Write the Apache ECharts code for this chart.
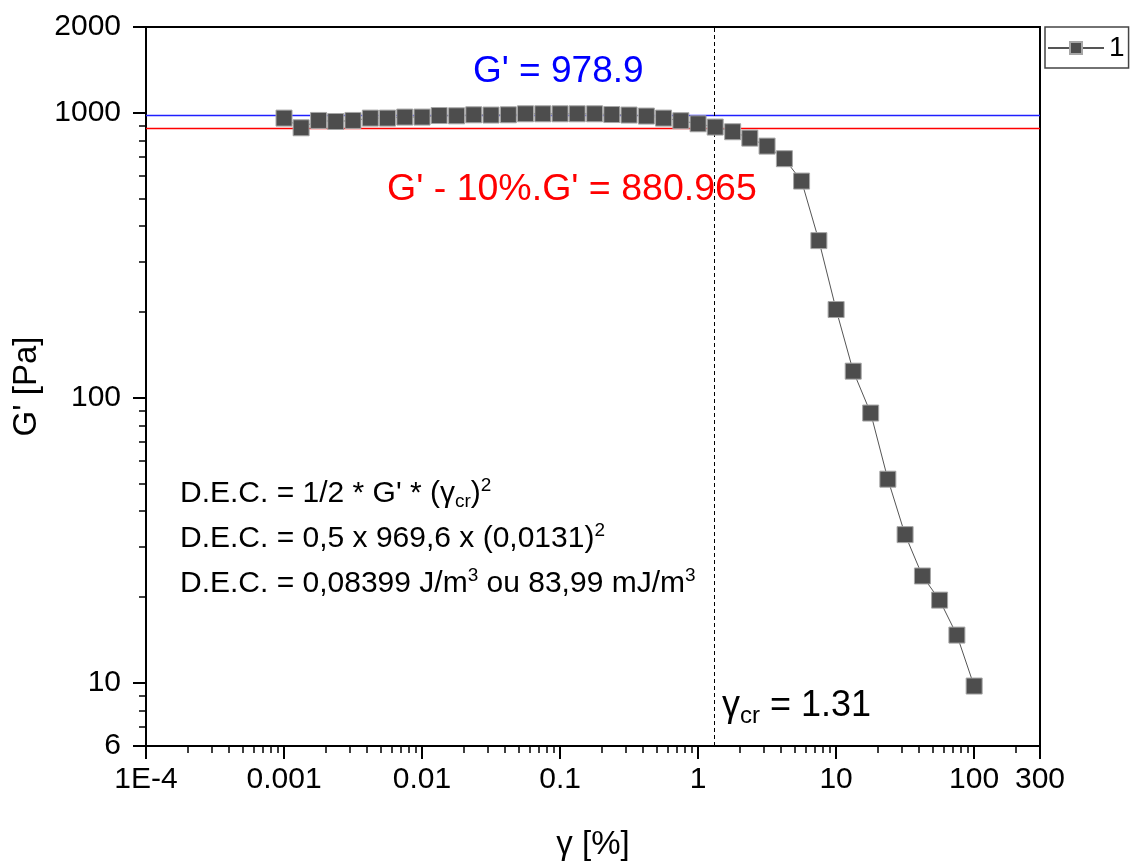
<!DOCTYPE html>
<html>
<head>
<meta charset="utf-8">
<title>G' vs strain amplitude</title>
<script src="https://cdn.jsdelivr.net/npm/echarts@6/dist/echarts.min.js"></script>
<style>
  html, body { margin: 0; padding: 0; background: #fff; }
  #chart { width: 1130px; height: 863px; }
</style>
</head>
<body>
<div id="chart"></div>
<script>
// Strain amplitude gamma [%] of each measured point
const STRAIN = [
  0.001, 0.00133, 0.00178, 0.00237, 0.00316, 0.00422, 0.00562, 0.0075,
  0.01, 0.0133, 0.0178, 0.0237, 0.0316, 0.0422, 0.0562, 0.075,
  0.1, 0.133, 0.178, 0.237, 0.316, 0.422, 0.562, 0.75,
  1, 1.33, 1.78, 2.37, 3.16, 4.22, 5.62, 7.5,
  10, 13.3, 17.8, 23.7, 31.6, 42.2, 56.2, 75,
  100
];
// Storage modulus G' [Pa]
const G_STORAGE = [
  958, 886, 940, 932, 940, 958, 958, 966,
  966, 978, 976, 984, 982, 984, 992, 992,
  992, 992, 992, 986, 982, 974, 958, 938,
  915, 891, 858, 815, 764, 690, 576, 356,
  204, 124, 88.4, 51.8, 33.1, 23.7, 19.5, 14.7,
  9.74
];
const SERIES_NAME = '1';

// Reference levels
const G_PLATEAU = 978.9;        // linear viscoelastic plateau
const G_LIMIT = 880.965;        // plateau minus 10 %
const GAMMA_CR = 1.31;          // critical strain [%]

// Axis ranges and tick labels
const X_MIN = 0.0001, X_MAX = 300;
const Y_MIN = 6, Y_MAX = 2000;
const X_TICK_VALUES = [0.0001, 0.001, 0.01, 0.1, 1, 10, 100, 300];
const X_TICK_LABELS = ['1E-4', '0.001', '0.01', '0.1', '1', '10', '100', '300'];
const Y_TICK_VALUES = [6, 10, 100, 1000, 2000];
const Y_TICK_LABELS = ['6', '10', '100', '1000', '2000'];
const Y_MINOR_TICKS = [7, 8, 9, 20, 30, 40, 50, 60, 70, 80, 90,
                       200, 300, 400, 500, 600, 700, 800, 900];

// Minor ticks of the x decades (2..9 of each decade up to 200)
const X_MINOR_TICKS = [];
for (let d = -4; d <= 2; d++) {
  for (let k = 2; k <= 9; k++) {
    const v = k * Math.pow(10, d);
    if (v < X_MAX) X_MINOR_TICKS.push(v);
  }
}

const FONT = '"Liberation Sans", Arial, sans-serif';

function tickLabel(values, labels) {
  return function (v) {
    for (let i = 0; i < values.length; i++) {
      if (Math.abs(v - values[i]) <= values[i] * 1e-6) return labels[i];
    }
    return '';
  };
}

const GRID = { left: 146, top: 27, right: 90, bottom: 117 };

const chart = echarts.init(document.getElementById('chart'), null, { renderer: 'canvas' });

const option = {
  backgroundColor: '#ffffff',
  animation: false,
  textStyle: { fontFamily: FONT },
  grid: Object.assign({
    show: true, borderColor: '#000', borderWidth: 2, backgroundColor: 'transparent',
    containLabel: false, outerBoundsMode: 'none'
  }, GRID),
  legend: {
    left: 1045, top: 27,
    padding: [7, 4, 6, 2],
    itemWidth: 56, itemHeight: 15, itemGap: 0,
    borderColor: '#444', borderWidth: 1.5,
    textStyle: { fontSize: 28, color: '#000', fontFamily: FONT },
    data: [SERIES_NAME]
  },
  xAxis: [
    {
      type: 'log', logBase: 10, min: X_MIN, max: X_MAX,
      position: 'bottom',
      name: 'γ [%]', nameLocation: 'middle', nameGap: 82,
      nameTextStyle: { fontSize: 33, color: '#000', fontFamily: FONT },
      axisLine: { show: true, onZero: false, lineStyle: { color: '#000', width: 2 } },
      axisTick: { show: true, inside: false, length: 13, lineStyle: { color: '#000', width: 2 } },
      axisLabel: {
        show: true, margin: 19, fontSize: 30, color: '#000', fontFamily: FONT,
        showMinLabel: true, showMaxLabel: true,
        formatter: tickLabel(X_TICK_VALUES, X_TICK_LABELS)
      },
      splitLine: { show: false }
    },
    {
      // decade minor ticks, drawn on a linear axis in log10 units
      type: 'value', min: Math.log10(X_MIN), max: Math.log10(X_MAX),
      position: 'bottom',
      axisLine: { show: false, onZero: false },
      axisTick: {
        show: true, inside: false, length: 7,
        lineStyle: { color: '#000', width: 1.5 },
        customValues: X_MINOR_TICKS.map(v => Math.log10(v))
      },
      axisLabel: { show: false },
      splitLine: { show: false }
    }
  ],
  yAxis: [
    {
      type: 'log', logBase: 10, min: Y_MIN, max: Y_MAX,
      position: 'left',
      name: "G' [Pa]", nameLocation: 'middle', nameGap: 92, nameRotate: 90,
      nameTextStyle: { fontSize: 33, color: '#000', fontFamily: FONT },
      axisLine: { show: true, onZero: false, lineStyle: { color: '#000', width: 2 } },
      axisTick: { show: true, inside: false, length: 13, lineStyle: { color: '#000', width: 2 } },
      axisLabel: {
        show: true, margin: 25, fontSize: 30, color: '#000', fontFamily: FONT,
        showMinLabel: true, showMaxLabel: true,
        formatter: tickLabel(Y_TICK_VALUES, Y_TICK_LABELS)
      },
      splitLine: { show: false }
    },
    {
      type: 'value', min: Math.log10(Y_MIN), max: Math.log10(Y_MAX),
      position: 'left',
      axisLine: { show: false, onZero: false },
      axisTick: {
        show: true, inside: false, length: 7,
        lineStyle: { color: '#000', width: 1.5 },
        customValues: Y_MINOR_TICKS.map(v => Math.log10(v))
      },
      axisLabel: { show: false },
      splitLine: { show: false }
    }
  ],
  series: [
    {
      name: SERIES_NAME,
      type: 'line',
      xAxisIndex: 0, yAxisIndex: 0,
      data: STRAIN.map((x, i) => [x, G_STORAGE[i]]),
      symbol: 'rect', symbolSize: 16,
      showAllSymbol: true,
      lineStyle: { color: '#555', width: 1 },
      itemStyle: { color: '#4d4d4d', borderColor: '#a6a6a6', borderWidth: 1 },
      z: 5,
      markLine: {
        silent: true,
        symbol: 'none',
        label: { show: false },
        animation: false,
        data: [
          { yAxis: G_PLATEAU, lineStyle: { color: '#2020ff', width: 1.4, type: 'solid' } },
          { yAxis: G_LIMIT, lineStyle: { color: '#ff0000', width: 1.4, type: 'solid' } },
          { xAxis: GAMMA_CR, lineStyle: { color: '#000', width: 1, type: [4, 3] } }
        ]
      }
    }
  ],
  graphic: [
    {
      type: 'text', left: 473, top: 53, silent: true,
      style: { text: "G' = " + G_PLATEAU, fill: '#0000ff', fontSize: 37, fontFamily: FONT }
    },
    {
      type: 'text', left: 387, top: 171, silent: true,
      style: { text: "G' - 10%.G' = " + G_LIMIT, fill: '#ff0000', fontSize: 37.5, fontFamily: FONT }
    },
    {
      type: 'text', left: 722, top: 688, silent: true,
      style: {
        text: '{n|γ}{sub|cr}{n| = ' + GAMMA_CR + '}',
        fill: '#000', fontFamily: FONT,
        rich: {
          n: { fontSize: 36, lineHeight: 44, fontFamily: FONT, fill: '#000' },
          sub: { fontSize: 24, verticalAlign: 'bottom', fontFamily: FONT, fill: '#000' }
        }
      }
    },
    {
      type: 'text', left: 180, top: 476, silent: true,
      style: {
        text: [
          "{n|D.E.C. = 1/2 * G' * (γ}{sub|cr}{n|)}{sup|2}",
          '{n|D.E.C. = 0,5 x 969,6 x (0,0131)}{sup|2}',
          '{n|D.E.C. = 0,08399 J/m}{sup|3}{n| ou 83,99 mJ/m}{sup|3}'
        ].join('\n'),
        fill: '#000', fontFamily: FONT,
        rich: {
          n: { fontSize: 30, lineHeight: 45, fontFamily: FONT, fill: '#000' },
          sub: { fontSize: 19, verticalAlign: 'bottom', padding: [0, 0, 5, 0], fontFamily: FONT, fill: '#000' },
          sup: { fontSize: 19, verticalAlign: 'top', padding: [5, 0, 0, 0], fontFamily: FONT, fill: '#000' }
        }
      }
    }
  ]
};

chart.setOption(option);
</script>
</body>
</html>
